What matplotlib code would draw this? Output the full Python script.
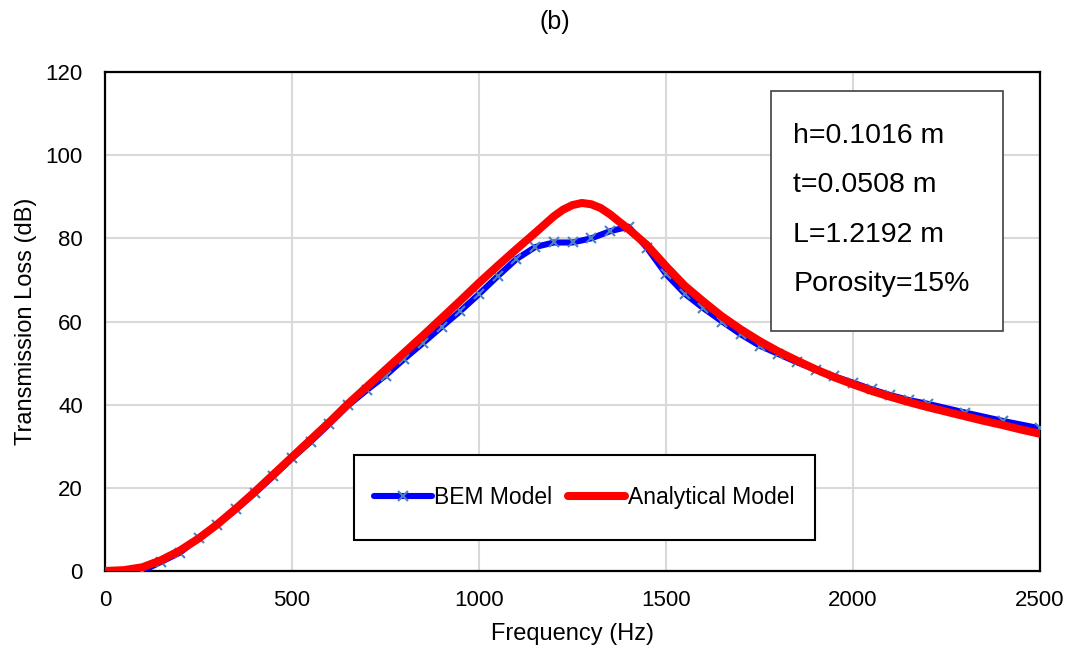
import matplotlib
matplotlib.use('Agg')
import matplotlib.pyplot as plt
from matplotlib.patches import Rectangle

plt.rcParams['font.family'] = ['Liberation Sans', 'DejaVu Sans']

# BEM model
bem_freq = [100, 150, 200, 250, 300, 350, 400, 450, 500, 550, 600, 650, 700, 750,
            800, 850, 900, 950, 1000, 1050, 1100, 1150, 1200, 1250, 1300, 1350, 1400,
            1450, 1500, 1550, 1600, 1650, 1700, 1750, 1800, 1850, 1900, 1950, 2000,
            2050, 2100, 2150, 2200, 2300, 2400, 2500]
bem_tl = [0.0, 2.2, 4.4, 7.9, 11.1, 14.8, 18.7, 22.8, 27.1, 31.1, 35.4, 39.8, 43.5, 47.0,
          51.0, 54.8, 58.7, 62.5, 66.6, 70.9, 75.0, 77.9, 79.0, 79.0, 80.0, 81.7, 82.8,
          77.6, 71.4, 66.7, 63.2, 60.0, 56.9, 54.2, 52.2, 50.2, 48.4, 46.8, 45.3,
          43.7, 42.3, 41.1, 40.2, 38.1, 36.1, 34.3]

# Analytical model
ana_freq = [0, 50, 100, 150, 200, 250, 300, 350, 400, 450, 500, 550, 600, 650, 700, 750,
            800, 850, 900, 950, 1000, 1050, 1100, 1150, 1200, 1225, 1250, 1275, 1300, 1325,
            1350, 1400, 1450, 1500, 1550, 1600, 1650, 1700, 1750, 1800, 1850, 1900, 1950,
            2000, 2050, 2100, 2150, 2200, 2250, 2300, 2350, 2400, 2450, 2500]
ana_tl = [0.0, 0.2, 0.9, 2.6, 4.9, 7.8, 11.2, 15.0, 19.0, 23.2, 27.4, 31.6, 35.8, 40.2, 44.3, 48.4,
          52.5, 56.6, 60.8, 65.0, 69.3, 73.4, 77.4, 81.3, 85.3, 86.9, 88.0, 88.5, 88.2, 87.3,
          85.8, 82.2, 78.3, 73.3, 68.6, 64.8, 61.2, 58.1, 55.3, 52.8, 50.6, 48.5, 46.6,
          44.9, 43.3, 41.9, 40.6, 39.4, 38.3, 37.2, 36.1, 35.1, 34.0, 33.0]

params = ['h=0.1016 m', 't=0.0508 m', 'L=1.2192 m', 'Porosity=15%']

fig = plt.figure(figsize=(10.72, 6.54), dpi=100)
ax = fig.add_axes([105/1072, 83/654, 935/1072, 499/654])

ax.plot(bem_freq, bem_tl, color='#0000FF', lw=4.4, marker='x', ms=7, mew=1.5,
        mec='#4F81BD', solid_joinstyle='round', solid_capstyle='round',
        label='BEM Model', zorder=3)
ax.plot(ana_freq, ana_tl, color='#FF0000', lw=5.8, solid_joinstyle='round',
        solid_capstyle='round', label='Analytical Model', zorder=4)

ax.set_xlim(0, 2500)
ax.set_ylim(0, 120)
ax.set_xticks(range(0, 2501, 500))
ax.set_yticks(range(0, 121, 20))
ax.grid(True, color='#d9d9d9', lw=1.5)
ax.set_axisbelow(True)
for s in ax.spines.values():
    s.set_color('black')
    s.set_linewidth(1.6)
ax.tick_params(length=0, labelsize=16)
ax.tick_params(axis='y', pad=16)
ax.tick_params(axis='x', pad=14)

ax.set_xlabel('Frequency (Hz)', fontsize=17, va='center')
ax.xaxis.set_label_coords(0.5, -(634 - 571) / 499)
ax.set_ylabel('Transmission Loss (dB)', fontsize=17, va='center')
ax.yaxis.set_label_coords(-(105 - 26) / 935, 0.5)

fig.text(555/1072, 1 - 22/654, '(b)', fontsize=18, ha='center', va='center')

# legend box
ax.add_patch(Rectangle((0.266, 0.062), 0.493, 0.170, transform=ax.transAxes,
                       facecolor='white', edgecolor='black', lw=1.5, zorder=5))
ax.legend(loc='center', bbox_to_anchor=(0.5125, 0.147), ncol=2, frameon=False,
          fontsize=16.5, handlelength=2.5, handletextpad=0.1, columnspacing=0.7)
ax.get_legend().set_zorder(6)

# parameter box
ax.add_patch(Rectangle((0.712, 0.481), 0.248, 0.481, transform=ax.transAxes,
                       facecolor='white', edgecolor='#404040', lw=1.2, zorder=5))
for i, t in enumerate(params):
    ax.text(0.736, 0.872 - i * 0.099, t, transform=ax.transAxes, fontsize=20.5,
            va='center', ha='left', zorder=6)

plt.savefig('out.png', dpi=100)
